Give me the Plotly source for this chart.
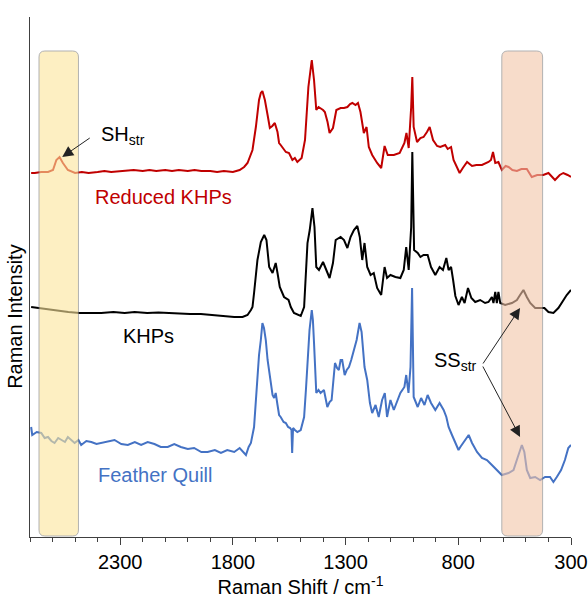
import plotly.graph_objects as go

# ---- data (Raman shift in cm-1, intensity in a.u., offset per spectrum) ----
red_x = [2695, 2679, 2650, 2620, 2598, 2583, 2569, 2554, 2532, 2500, 2470, 2440, 2400, 2370, 2340,
         2300, 2270, 2240, 2200, 2170, 2140, 2100, 2070, 2040, 2000, 1970, 1940, 1900, 1870, 1840,
         1800, 1770, 1750, 1735, 1713, 1698, 1684, 1676, 1669, 1658, 1646, 1636, 1625, 1614, 1602,
         1595, 1588, 1573, 1565, 1551, 1536, 1525, 1514, 1495, 1480, 1465, 1455, 1450, 1440, 1430,
         1420, 1411, 1400, 1392, 1380, 1371, 1356, 1341, 1322, 1307, 1292, 1280, 1270, 1256, 1245,
         1234, 1219, 1207, 1197, 1182, 1170, 1160, 1142, 1127, 1113, 1100, 1086, 1060, 1039, 1030,
         1020, 1009, 1004, 998, 990, 983, 968, 954, 939, 927, 912, 894, 880, 858, 847,
         832, 821, 806, 794, 780, 761, 739, 720, 695, 666, 655, 646, 636, 622, 607,
         590, 577, 560, 540, 520, 496, 474, 450, 423, 400, 385, 371, 350, 334, 315, 300]
red_y = [364, 364, 365, 365, 367, 377, 380, 374, 367, 364, 365, 364, 365, 366, 365,
         366, 366, 367, 366, 367, 366, 367, 366, 367, 366, 367, 366, 366, 365, 366,
         365, 367, 370, 374, 387, 410, 437, 444, 446, 437, 422, 409, 411, 414, 405,
         394, 392, 387, 385, 384, 377, 379, 375, 379, 397, 450, 472, 477, 457, 427,
         430, 429, 427, 425, 415, 404, 409, 427, 429, 429, 430, 433, 434, 432, 434,
         425, 404, 410, 390, 382, 377, 374, 369, 391, 382, 382, 382, 384, 394, 404,
         389, 430, 460, 410, 402, 395, 399, 400, 405, 410, 397, 391, 390, 392, 388,
         390, 377, 369, 364, 369, 375, 371, 372, 372, 375, 377, 385, 374, 375, 367,
         371, 370, 367, 366, 368, 368, 360, 362, 362, 364, 360, 357, 362, 364, 362, 360]

black_x = [2695, 2660, 2612, 2570, 2530, 2480, 2430, 2384, 2330, 2280, 2236, 2180, 2130, 2089, 2040,
           1990, 1942, 1900, 1850, 1810, 1794, 1757, 1735, 1720, 1713, 1706, 1698, 1691, 1676, 1666,
           1661, 1651, 1639, 1624, 1610, 1602, 1592, 1573, 1553, 1543, 1529, 1499, 1484, 1469, 1459,
           1447, 1438, 1430, 1418, 1400, 1385, 1371, 1356, 1344, 1322, 1307, 1292, 1278, 1263, 1248,
           1237, 1226, 1216, 1204, 1189, 1175, 1160, 1142, 1127, 1116, 1101, 1079, 1057, 1042, 1031,
           1020, 1009, 1004, 996, 980, 968, 954, 936, 921, 902, 883, 868, 853, 843, 832,
           823, 813, 799, 784, 772, 757, 742, 725, 703, 681, 666, 651, 644, 636, 629,
           622, 614, 592, 562, 540, 526, 511, 496, 481, 459, 437, 418, 400, 378, 356,
           334, 319, 300]
black_y = [230, 229, 227, 226, 225, 224, 224, 224, 225, 224, 225, 224, 224.5, 224, 224,
           223, 223, 222, 221, 220.5, 220, 220, 222, 227, 230, 244, 262, 277, 295, 301,
           302, 297, 270, 264, 274, 264, 250, 240, 237, 230, 224, 221, 230, 294, 307,
           329, 310, 270, 267, 275, 267, 259, 274, 297, 300, 297, 289, 300, 307, 311,
           300, 277, 294, 270, 262, 264, 249, 242, 270, 259, 262, 260, 259, 267, 290,
           267, 310, 385, 287, 284, 280, 282, 282, 270, 262, 270, 267, 279, 267, 270,
           257, 241, 232, 240, 234, 249, 239, 235, 237, 234, 235, 240, 234, 245, 234,
           245, 234, 232, 234, 237, 242, 247, 240, 234, 229, 229, 229, 225, 224, 229,
           237, 242, 247]

blue_x = [2695, 2690, 2670, 2650, 2635, 2620, 2605, 2591, 2575, 2561, 2545, 2532, 2515, 2502, 2485,
          2473, 2450, 2428, 2405, 2384, 2355, 2325, 2295, 2266, 2235, 2207, 2178, 2148, 2120, 2089,
          2060, 2031, 2000, 1972, 1940, 1912, 1880, 1853, 1825, 1794, 1770, 1742, 1730, 1720, 1706,
          1698, 1691, 1684, 1676, 1669, 1662, 1654, 1646, 1639, 1630, 1624, 1617, 1610, 1602, 1595,
          1588, 1575, 1565, 1555, 1546, 1540, 1537, 1533, 1525, 1514, 1499, 1484, 1476, 1469, 1460,
          1450, 1445, 1440, 1430, 1420, 1411, 1396, 1381, 1371, 1362, 1347, 1338, 1330, 1322, 1315,
          1304, 1295, 1285, 1275, 1266, 1251, 1238, 1229, 1216, 1204, 1192, 1182, 1167, 1153, 1138,
          1126, 1116, 1101, 1086, 1071, 1057, 1039, 1031, 1021, 1012, 1005, 998, 980, 965, 950,
          936, 921, 902, 883, 865, 853, 843, 828, 813, 799, 791, 769, 754, 739, 717,
          695, 673, 651, 629, 607, 577, 555, 536, 518, 507, 496, 481, 459, 437, 415,
          393, 378, 363, 344, 327, 312, 300]
blue_y = [110, 102, 105, 104, 99, 100, 96, 94, 99, 97, 95, 100, 96, 94, 97,
          92, 96, 95, 93, 94, 96, 97, 93, 92, 95, 92, 95, 93, 90, 90,
          93, 90, 88, 89, 85, 85, 87, 84, 87, 85, 89, 82, 90, 94, 110,
          137, 157, 182, 197, 214, 209, 197, 177, 164, 147, 142, 139, 144, 132, 122,
          120, 115, 114, 110, 109, 107, 84, 109, 107, 105, 107, 120, 147, 180, 207,
          227, 217, 194, 144, 147, 144, 147, 130, 135, 137, 174, 169, 167, 177, 177,
          162, 167, 170, 177, 184, 197, 214, 205, 170, 157, 134, 124, 132, 120, 137,
          144, 120, 137, 127, 135, 144, 150, 162, 144, 170, 249, 140, 130, 139, 132,
          142, 134, 127, 134, 127, 120, 110, 102, 94, 87, 90, 97, 102, 94, 85,
          79, 77, 72, 67, 62, 64, 67, 80, 92, 85, 67, 59, 60, 57, 60,
          60, 55, 60, 67, 77, 89, 92]

tick_vals = [2300, 1800, 1300, 800, 300]
band_sh = [2660, 2485]   # highlighted S-H stretch region
band_ss = [607, 426]     # highlighted S-S stretch region

RED = "#c00000"
BLUE = "#4472c4"
FONT = "Liberation Sans, Arial, sans-serif"

fig = go.Figure()
for xs, ys, col, nm in [(red_x, red_y, RED, "Reduced KHPs"),
                        (black_x, black_y, "#000000", "KHPs"),
                        (blue_x, blue_y, BLUE, "Feather Quill")]:
    fig.add_trace(go.Scatter(x=xs, y=ys, mode="lines", name=nm,
                             line=dict(color=col, width=2), showlegend=False))


def rounded_rect(xl, xr, yb, yt, rx=26.0, ry=6.0):
    # xl is the larger wavenumber (left on the reversed axis)
    return (f"M {xl},{yb + ry} L {xl},{yt - ry} Q {xl},{yt} {xl - rx},{yt} "
            f"L {xr + rx},{yt} Q {xr},{yt} {xr},{yt - ry} "
            f"L {xr},{yb + ry} Q {xr},{yb} {xr + rx},{yb} "
            f"L {xl - rx},{yb} Q {xl},{yb} {xl},{yb + ry} Z")


for (xl, xr), fill in [(band_sh, "#fde69b"), (band_ss, "#f3c5a8")]:
    fig.add_shape(type="path", path=rounded_rect(xl, xr, 1, 486), xref="x", yref="y",
                  fillcolor=fill, line=dict(color="#7f7f7f", width=1), opacity=0.6, layer="above")

ann_font = dict(family=FONT, size=20)
fig.add_annotation(x=2419, y=340, text="Reduced KHPs", showarrow=False, xanchor="left",
                   yanchor="middle", font=dict(ann_font, color=RED))
fig.add_annotation(x=2296, y=201, text="KHPs", showarrow=False, xanchor="left",
                   yanchor="middle", font=dict(ann_font, color="#000000"))
fig.add_annotation(x=2406, y=62, text="Feather Quill", showarrow=False, xanchor="left",
                   yanchor="middle", font=dict(ann_font, color=BLUE))
fig.add_annotation(x=2395, y=402, text="SH<sub>str</sub>", showarrow=False, xanchor="left",
                   yanchor="middle", font=dict(ann_font, color="#000000"))
fig.add_annotation(x=918, y=176, text="SS<sub>str</sub>", showarrow=False, xanchor="left",
                   yanchor="middle", font=dict(ann_font, color="#000000"))

arrow_kw = dict(text="", showarrow=True, arrowhead=2, arrowsize=2.2, arrowwidth=1,
                arrowcolor="#222222", axref="pixel", ayref="pixel")
fig.add_annotation(x=2557, y=380, ax=29, ay=-20, **arrow_kw)
fig.add_annotation(x=526, y=229, ax=-38, ay=57, **arrow_kw)
fig.add_annotation(x=526, y=100, ax=-38, ay=-72, **arrow_kw)

fig.add_annotation(text="Raman Intensity", xref="paper", yref="y", x=-0.028, y=221,
                   textangle=-90, showarrow=False, xanchor="center", yanchor="middle",
                   font=dict(family=FONT, size=20, color="#000000"))

fig.update_xaxes(range=[2700, 300], tickvals=tick_vals, ticks="outside", ticklen=7,
                 tickwidth=1, tickcolor="#404040", showline=True, linecolor="#404040",
                 linewidth=1, showgrid=False, zeroline=False, automargin=False,
                 minor=dict(dtick=100, tick0=300, ticks="outside", ticklen=4,
                            tickcolor="#404040", showgrid=False),
                 tickfont=dict(family=FONT, size=20, color="#000000"),
                 title=dict(text="Raman Shift / cm<sup>-1</sup>", standoff=15,
                            font=dict(family=FONT, size=20, color="#000000")))
fig.update_yaxes(range=[0, 520], showline=True, linecolor="#404040", linewidth=1,
                 showticklabels=False, ticks="", showgrid=False, zeroline=False,
                 automargin=False)

fig.update_layout(width=588, height=598, margin=dict(l=30, r=17, t=17, b=61),
                  plot_bgcolor="white", paper_bgcolor="white",
                  font=dict(family=FONT))

# remove the browser's default 8 px body margin so the figure fills the window
fig.write_html("out.html", config={"displayModeBar": False},
               post_script="document.body.style.margin='0';document.body.style.overflow='hidden';")
